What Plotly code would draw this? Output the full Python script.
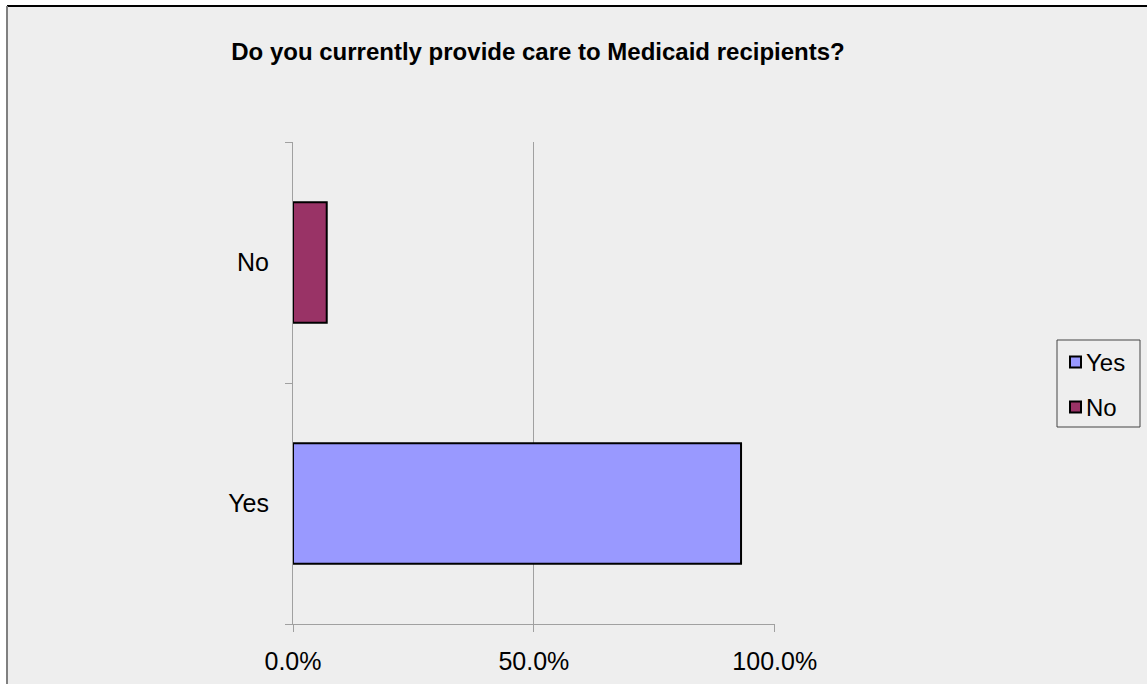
import plotly.graph_objects as go

# Survey answers and their share of respondents (percent)
answers = ["Yes", "No"]
shares = [93.0, 7.0]
colors = ["#9999FF", "#993366"]
x_ticks = [0, 50, 100]
x_tick_text = ["0.0%", "50.0%", "100.0%"]

W, H = 1147, 684
L, R, T, B = 293, 372, 142, 60
pw, ph = W - L - R, H - T - B


def px_x(p):
    return (p - L) / pw


def px_y(p):
    return (H - B - p) / ph


fig = go.Figure()
for ans, val, col in zip(answers, shares, colors):
    fig.add_trace(go.Bar(
        y=[ans], x=[val], name=ans, orientation="h",
        width=0.5, showlegend=False,
        marker=dict(color=col, line=dict(color="black", width=2)),
    ))

font = "Liberation Sans, Arial, sans-serif"
bg = "#EEEEEE"
grid = "#A0A0A0"
fs = 25

shapes = [
    dict(type="rect", xref="paper", yref="paper",
         x0=px_x(7), x1=px_x(W + 20), y0=px_y(H + 20), y1=px_y(6),
         fillcolor=bg, line=dict(width=0), layer="below"),
    dict(type="line", xref="paper", yref="paper",
         x0=px_x(7), x1=px_x(W + 20), y0=px_y(6), y1=px_y(6),
         line=dict(color="black", width=2)),
    dict(type="line", xref="paper", yref="paper",
         x0=px_x(7), x1=px_x(7), y0=px_y(6), y1=px_y(H + 20),
         line=dict(color="#808080", width=2)),
    # legend frame
    dict(type="rect", xref="paper", yref="paper",
         x0=px_x(1057), x1=px_x(1140), y0=px_y(427), y1=px_y(340),
         fillcolor=bg, line=dict(color="#444444", width=1)),
]
annotations = []

# legend entries: one swatch and label per answer
for i, (ans, col) in enumerate(zip(answers, colors)):
    cy = 362 + 45 * i
    shapes.append(dict(
        type="rect", xref="paper", yref="paper",
        x0=px_x(1070), x1=px_x(1081), y0=px_y(cy + 5.5), y1=px_y(cy - 5.5),
        fillcolor=col, line=dict(color="black", width=2)))
    annotations.append(dict(
        xref="paper", yref="paper", x=px_x(1084), y=px_y(cy),
        xanchor="left", yanchor="middle", text=ans, showarrow=False,
        font=dict(family=font, size=fs - 1, color="black")))

fig.update_layout(
    width=W, height=H,
    margin=dict(l=L, r=R, t=T, b=B),
    paper_bgcolor="white",
    plot_bgcolor="rgba(0,0,0,0)",
    barmode="overlay",
    showlegend=False,
    font=dict(family=font, size=fs, color="black"),
    title=dict(
        text="<b>Do you currently provide care to Medicaid recipients?</b>",
        x=px_x(538), xref="paper", xanchor="center",
        y=1 - 52 / H, yanchor="middle",
        font=dict(family=font, size=24, color="black"),
    ),
    xaxis=dict(
        range=[0, 100.05], tickvals=x_ticks, ticktext=x_tick_text,
        showgrid=True, gridcolor=grid, gridwidth=1,
        showline=True, linecolor=grid, linewidth=1,
        ticks="outside", ticklen=7, tickcolor=grid,
        zeroline=False, fixedrange=True, automargin=False,
        ticklabelstandoff=8,
        tickfont=dict(size=fs),
    ),
    yaxis=dict(
        type="category", categoryorder="array", categoryarray=answers,
        range=[-0.5, 1.5], tickson="boundaries",
        showline=True, linecolor=grid, linewidth=1,
        ticks="outside", ticklen=7, tickcolor=grid,
        showgrid=False, zeroline=False, fixedrange=True, automargin=False,
        ticklabelstandoff=18,
        tickfont=dict(size=fs),
    ),
    shapes=shapes,
    annotations=annotations,
)

fig.write_html("out.html", config={"displayModeBar": False})
